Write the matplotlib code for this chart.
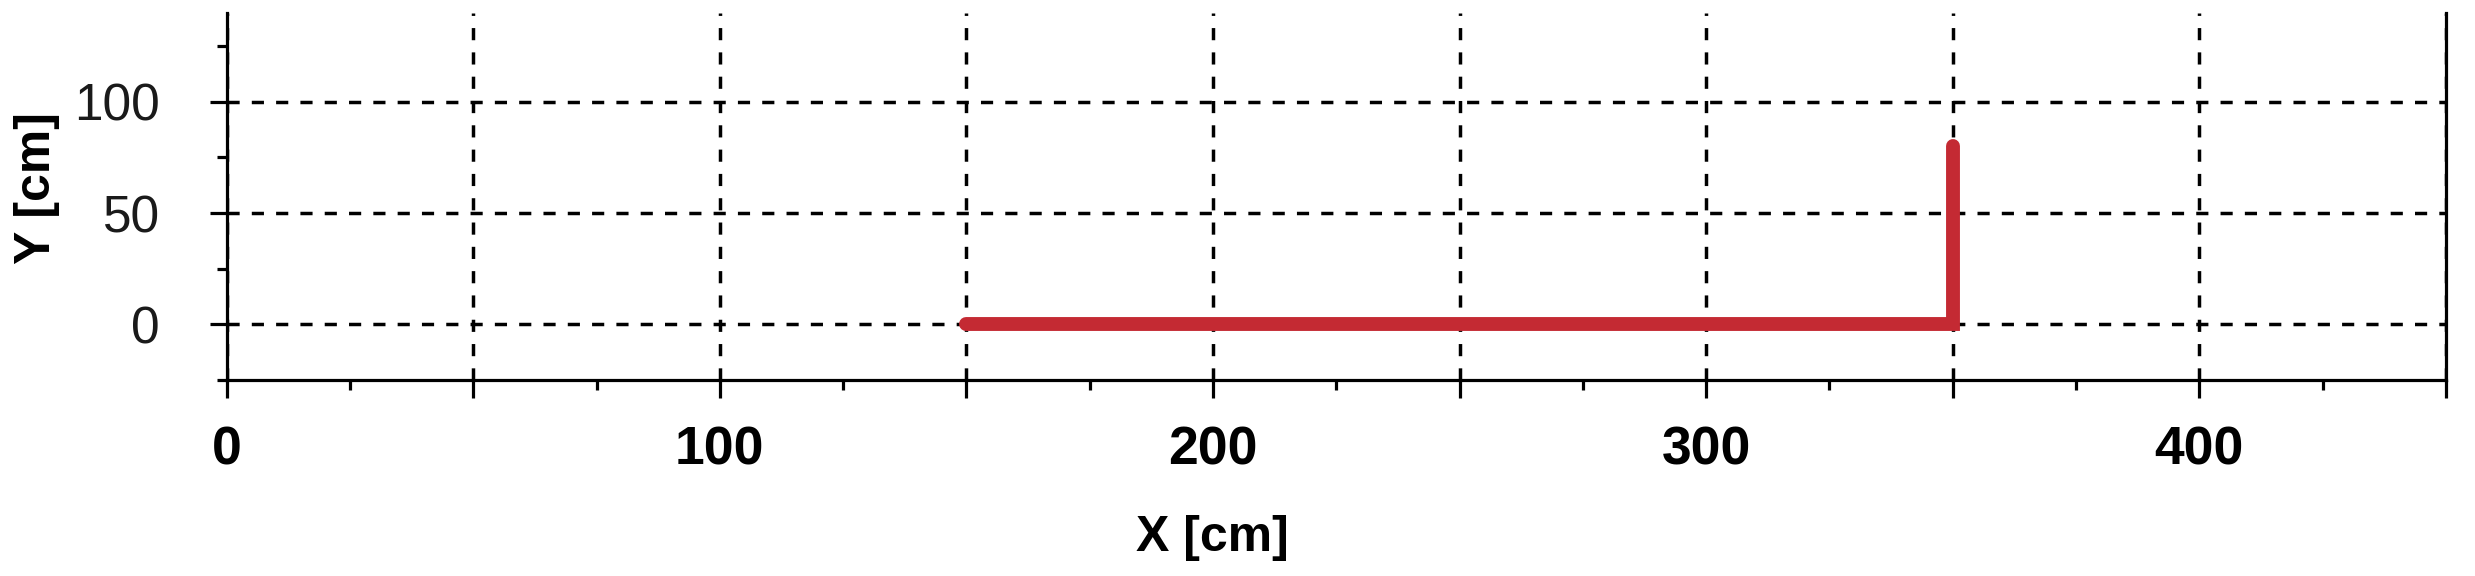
import numpy as np
import matplotlib
matplotlib.use("Agg")
import matplotlib.pyplot as plt
from matplotlib.ticker import MultipleLocator, FuncFormatter

plt.rcParams['font.family'] = ['Liberation Sans', 'DejaVu Sans']

# path of the red trace (cm)
path_x = [150, 350, 350]
path_y = [0, 0, 80]

x_limits = (0, 450)
y_limits = (-25, 140)

fig = plt.figure(figsize=(24.75, 5.76), dpi=100)
ax = fig.add_axes([0.0916, 0.3403, 0.8966, 0.6377])

ax.plot(path_x, path_y, color='#C42A33', lw=10, solid_capstyle='round',
        solid_joinstyle='miter', zorder=5)

ax.set_xlim(*x_limits)
ax.set_ylim(*y_limits)

ax.xaxis.set_major_locator(MultipleLocator(50))
ax.xaxis.set_minor_locator(MultipleLocator(25))
ax.yaxis.set_major_locator(MultipleLocator(50))
ax.yaxis.set_minor_locator(MultipleLocator(25))
ax.xaxis.set_major_formatter(FuncFormatter(lambda v, p: '%d' % v if v % 100 == 0 else ''))

ax.grid(True, which='major', color='black', lw=2.5, linestyle=(0, (3.5, 3.5)))

for s in ['left', 'bottom', 'right']:
    ax.spines[s].set_linewidth(2.3)
ax.spines['top'].set_visible(False)

ax.tick_params(axis='x', which='major', direction='out', length=13, width=2.3,
               pad=20, labelsize=38.5)
ax.tick_params(axis='x', which='minor', direction='out', length=7.5, width=2.3)
ax.tick_params(axis='y', which='major', direction='out', length=12, width=2.3,
               pad=36, labelsize=37, labelcolor='#1a1a1a')
ax.tick_params(axis='y', which='minor', direction='out', length=7.5, width=2.3)
for lab in ax.get_xticklabels():
    lab.set_fontweight('bold')

ax.set_xlabel('X [cm]', fontsize=36, fontweight='bold', va='center')
ax.xaxis.set_label_coords(0.490, 0.0655, transform=fig.transFigure)
ax.set_ylabel('Y [cm]', fontsize=36, fontweight='bold', va='center')
ax.yaxis.set_label_coords(0.0148, 0.6735, transform=fig.transFigure)

fig.savefig('out.png', dpi=100)
